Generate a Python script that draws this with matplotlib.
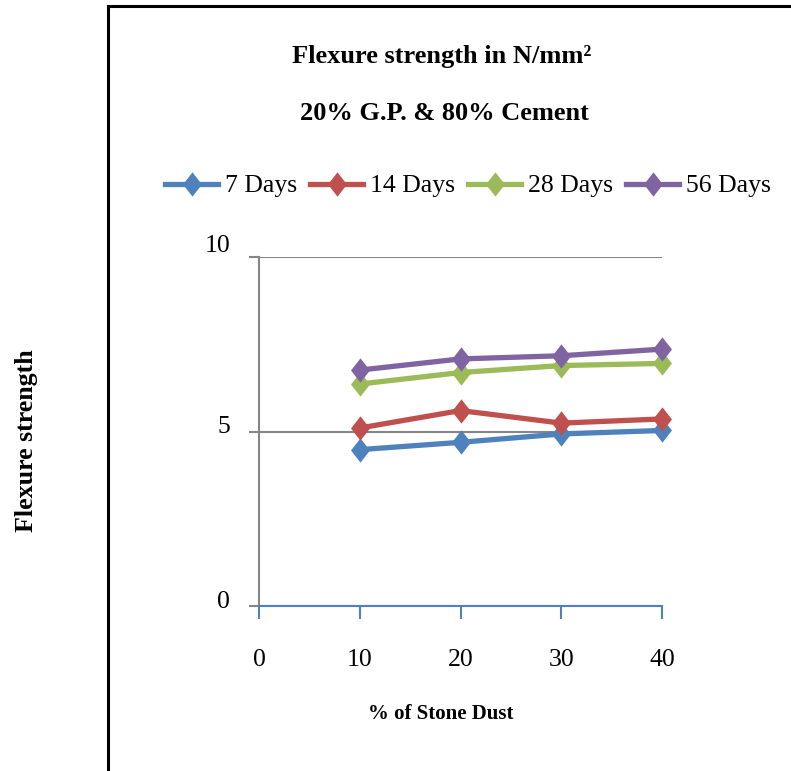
import matplotlib
matplotlib.use("Agg")
import matplotlib.pyplot as plt
from matplotlib.path import Path
from matplotlib.lines import Line2D
from matplotlib.transforms import ScaledTranslation

plt.rcParams['font.family'] = ['Liberation Serif', 'DejaVu Serif']

stone_dust = [10, 20, 30, 40]
series_names = ['7 Days', '14 Days', '28 Days', '56 Days']
days7 = [4.48, 4.69, 4.93, 5.03]
days14 = [5.10, 5.60, 5.24, 5.36]
days28 = [6.36, 6.69, 6.89, 6.95]
days56 = [6.76, 7.08, 7.17, 7.36]
colors = ['#4F81BD', '#C0504D', '#9BBB59', '#8064A2']
x_ticks = [0, 10, 20, 30, 40]
y_ticks = [0, 5, 10]

title = 'Flexure strength in N/mm²'
subtitle = '20% G.P. & 80% Cement'
x_label = '% of Stone Dust'
y_label = 'Flexure strength'

W, H = 791, 771
fig = plt.figure(figsize=(W / 100, H / 100), dpi=100)
ax = fig.add_axes([259 / W, 165 / H, (662 - 259) / W, (606 - 257) / H])

diamond = Path([(0, 1), (0.78, 0), (0, -1), (-0.78, 0), (0, 1)],
               [Path.MOVETO, Path.LINETO, Path.LINETO, Path.LINETO, Path.CLOSEPOLY])

handles = []
for name, vals, c in zip(series_names, [days7, days14, days28, days56], colors):
    h, = ax.plot(stone_dust, vals, color=c, lw=3.8, marker=diamond, ms=17.5,
                 markeredgewidth=0, label=name, zorder=3, solid_joinstyle='round',
                 clip_on=False)
    handles.append(h)

ax.set_xlim(0, 40)
ax.set_ylim(0, 10)
ax.set_xticks(x_ticks)
ax.set_yticks(y_ticks)
ax.yaxis.grid(True, color='#868686', lw=1.5)
ax.set_axisbelow(True)
for s in ['top', 'right']:
    ax.spines[s].set_visible(False)
ax.spines['left'].set_color('#868686')
ax.spines['left'].set_linewidth(1.5)
ax.spines['bottom'].set_color('#4F81BD')
ax.spines['bottom'].set_linewidth(1.5)
ax.tick_params(axis='x', direction='out', length=9.4, width=1.5, color='#4F81BD',
               labelsize=18.5, pad=21.5)
ax.tick_params(axis='y', direction='out', length=7.2, width=1.5, color='#868686',
               labelsize=18.5, pad=13.7)
ax.spines['bottom'].set_zorder(4)

offsets_px = [6, 7, 13]
for lab, dy in zip(ax.get_yticklabels(), offsets_px):
    lab.set_transform(lab.get_transform() + ScaledTranslation(0, dy / 100, fig.dpi_scale_trans))

fig.text(442 / W, 1 - 57 / H, title, ha='center', va='center', fontsize=19, fontweight='bold')
fig.text(444 / W, 1 - 114 / H, subtitle, ha='center', va='center', fontsize=19, fontweight='bold')
fig.text(441 / W, 1 - 714 / H, x_label, ha='center', va='center', fontsize=15, fontweight='bold')
fig.text(27 / W, 1 - 441 / H, y_label, ha='center', va='center', fontsize=18.7,
         fontweight='bold', rotation=90)

fig.legend(handles=handles, loc='center left', bbox_to_anchor=(165 / W, 1 - 186 / H),
           ncol=4, frameon=False, fontsize=18.5, handlelength=2.07, handletextpad=0.27,
           columnspacing=0.5, borderpad=0, borderaxespad=0, numpoints=1)

fig.add_artist(Line2D([107.5 / W, 107.5 / W], [0, 1 - 6 / H], color='black', lw=2.2,
                      transform=fig.transFigure, solid_capstyle='projecting'))
fig.add_artist(Line2D([107.5 / W, 1], [1 - 6 / H, 1 - 6 / H], color='black', lw=2.2,
                      transform=fig.transFigure, solid_capstyle='projecting'))

fig.savefig('out.png', dpi=100)
